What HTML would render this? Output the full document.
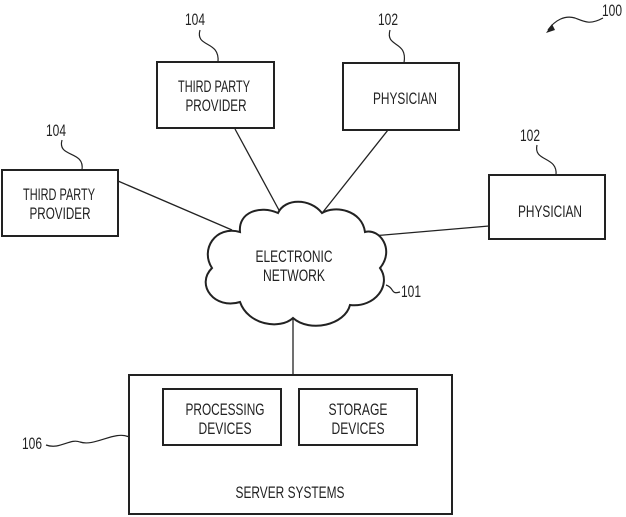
<!DOCTYPE html>
<html><head><style>
html,body{margin:0;padding:0;background:#fff;}
svg{display:block;}
text{font-family:"Liberation Sans",sans-serif;font-size:16.5px;fill:#222;text-anchor:middle;}
</style></head><body>
<svg width="626" height="517" viewBox="0 0 626 517" xmlns="http://www.w3.org/2000/svg">
<g stroke="#222" stroke-width="1.3" fill="none">
<line x1="118" y1="181" x2="232" y2="230"/>
<line x1="235" y1="129" x2="280" y2="212"/>
<line x1="388" y1="130" x2="323" y2="212"/>
<line x1="489" y1="226" x2="372" y2="236"/>
<line x1="293" y1="318" x2="293" y2="375"/>
</g>
<g fill="#fff" stroke="#222" stroke-width="2">
<rect x="157" y="62" width="117" height="66"/>
<rect x="343" y="63" width="116" height="67"/>
<rect x="2" y="170" width="116" height="66"/>
<rect x="489" y="175" width="116" height="64"/>
<rect x="129" y="375" width="323" height="139"/>
<rect x="163" y="389" width="118" height="56"/>
<rect x="299" y="389" width="118" height="56"/>
</g>
<path d="M240,232 C215,225 200,250 212,268 C195,285 215,310 240,302 C248,325 280,330 293,318 C310,333 345,325 350,305 C375,308 392,285 380,268 C395,250 380,228 365,232 C362,210 335,205 322,213 C310,198 285,198 278,213 C260,205 238,212 240,232 Z" fill="#fff" stroke="#222" stroke-width="2"/>
<text x="214" y="92" textLength="72" lengthAdjust="spacingAndGlyphs">THIRD PARTY</text><text x="216" y="111" textLength="61" lengthAdjust="spacingAndGlyphs">PROVIDER</text>
<text x="405" y="104" textLength="64" lengthAdjust="spacingAndGlyphs">PHYSICIAN</text>
<text x="59" y="200" textLength="72" lengthAdjust="spacingAndGlyphs">THIRD PARTY</text><text x="60" y="219" textLength="61" lengthAdjust="spacingAndGlyphs">PROVIDER</text>
<text x="550" y="217" textLength="64" lengthAdjust="spacingAndGlyphs">PHYSICIAN</text>
<text x="294" y="262" textLength="77" lengthAdjust="spacingAndGlyphs">ELECTRONIC</text><text x="294" y="281" textLength="62" lengthAdjust="spacingAndGlyphs">NETWORK</text>
<text x="225" y="415" textLength="79" lengthAdjust="spacingAndGlyphs">PROCESSING</text><text x="225" y="434" textLength="53" lengthAdjust="spacingAndGlyphs">DEVICES</text>
<text x="358" y="415" textLength="59" lengthAdjust="spacingAndGlyphs">STORAGE</text><text x="358" y="434" textLength="53" lengthAdjust="spacingAndGlyphs">DEVICES</text>
<text x="290" y="498" textLength="109" lengthAdjust="spacingAndGlyphs">SERVER SYSTEMS</text>
<g style="font-size:15.5px">
<text x="195" y="25" textLength="20" lengthAdjust="spacingAndGlyphs">104</text>
<text x="388" y="25" textLength="20" lengthAdjust="spacingAndGlyphs">102</text>
<text x="56" y="136" textLength="20" lengthAdjust="spacingAndGlyphs">104</text>
<text x="530" y="141" textLength="20" lengthAdjust="spacingAndGlyphs">102</text>
<text x="612" y="16" textLength="20" lengthAdjust="spacingAndGlyphs">100</text>
<text x="411" y="297" textLength="20" lengthAdjust="spacingAndGlyphs">101</text>
<text x="32" y="449" textLength="20" lengthAdjust="spacingAndGlyphs">106</text>
</g>
<g stroke="#222" stroke-width="1.2" fill="none">
<path d="M200,30 C195,48 220,40 218,62"/>
<path d="M390,30 C385,48 408,40 404,63"/>
<path d="M62,140 C57,158 85,150 82,170"/>
<path d="M537,145 C533,162 558,156 556,175"/>
<path d="M603,18 C590,25 585,22 575,18 C565,15 555,20 548,30"/>
<path d="M386,285 C395,288 390,295 400,292"/>
<path d="M46,445 C60,450 70,438 80,442 C95,447 115,430 129,437"/>
</g>
<path d="M546,33 L552,24 L555,30 Z" fill="#222"/>
</svg>
</body></html>
